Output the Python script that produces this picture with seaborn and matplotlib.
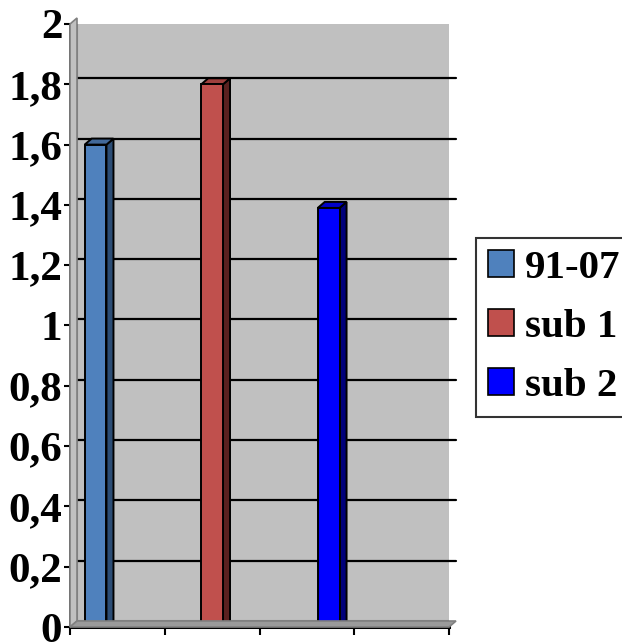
import matplotlib
matplotlib.use("Agg")
import matplotlib.pyplot as plt
import matplotlib.transforms as mtransforms
from matplotlib.patches import Rectangle, Polygon, Patch
import seaborn as sns
import pandas as pd
import numpy as np

# ---- data ----
categories = ["c1", "c2", "c3", "c4"]
series = ["91-07", "sub 1", "sub 2"]
series_category = ["c1", "c2", "c3"]
values = [1.6, 1.8, 1.39]
yticks = [0, 0.2, 0.4, 0.6, 0.8, 1.0, 1.2, 1.4, 1.6, 1.8, 2.0]
ytick_labels = ["0", "0,2", "0,4", "0,6", "0,8", "1", "1,2", "1,4", "1,6", "1,8", "2"]

front_colors = ["#4F81BD", "#C0504D", "#0000FF"]
top_colors = ["#42699A", "#9E403E", "#0000C8"]
side_colors = ["#2C4D75", "#5A2120", "#00007A"]

df = pd.DataFrame({"cat": series_category, "series": series, "value": values})

sns.set_theme(style="white")
plt.rcParams["font.family"] = ["Liberation Serif", "DejaVu Serif"]
plt.rcParams["font.weight"] = "bold"
plt.rcParams["text.color"] = "black"
plt.rcParams["ytick.color"] = "black"
plt.rcParams["xtick.color"] = "black"

W, H, DPI = 622, 643, 100
fig = plt.figure(figsize=(W / DPI, H / DPI), dpi=DPI)
fig.patch.set_facecolor("white")

left_px, right_px, top_px, bot_px = 70, 449, 24, 627
ax = fig.add_axes([left_px / W, (H - bot_px) / H, (right_px - left_px) / W, (bot_px - top_px) / H])
ax.set_facecolor("none")

DX, DY = 7, 6  # 3D depth offset in pixels
offset = mtransforms.ScaledTranslation(DX / DPI, DY / DPI, fig.dpi_scale_trans)

sns.barplot(data=df, x="cat", y="value", hue="series", order=categories,
            hue_order=series, palette=front_colors, dodge=True, width=0.69,
            gap=0, edgecolor="black", linewidth=1.4, saturation=1,
            legend=False, ax=ax, zorder=3)

ax.set_xlim(-0.5, 3.5)
ax.set_ylim(0, 2)

# back wall
wall = Rectangle((0, 0), 1, 1, transform=ax.transAxes + offset,
                 facecolor="#C0C0C0", edgecolor="#808080", linewidth=1.5, zorder=0)
ax.add_patch(wall)
# gridlines on the wall
for v in yticks[1:-1]:
    ax.plot([0, 1], [v, v], transform=ax.get_yaxis_transform() + offset,
            color="black", lw=1.6, zorder=0.5, clip_on=False)

# side wall and floor in display coords
p00 = ax.transAxes.transform((0, 0))
p01 = ax.transAxes.transform((0, 1))
p10 = ax.transAxes.transform((1, 0))
side = Polygon([p00, p01, p01 + [DX, DY], p00 + [DX, DY]], closed=True,
               transform=None, facecolor="#C0C0C0", edgecolor="#808080", lw=1.2, zorder=0.2)
fig.add_artist(side)
floor = Polygon([p00, p10, p10 + [DX, DY], p00 + [DX, DY]], closed=True,
                transform=None, facecolor="#9A9A9A", edgecolor="#808080", lw=1.2, zorder=0.2)
fig.add_artist(floor)

# 3D faces for bars
xr = ax.get_xlim(); yr = ax.get_ylim()
bb = ax.get_position()
dxd = DX / (bb.width * W) * (xr[1] - xr[0])
dyd = DY / (bb.height * H) * (yr[1] - yr[0])
for i, cont in enumerate(ax.containers):
    for rect in cont:
        h = rect.get_height()
        if not np.isfinite(h) or h == 0:
            continue
        x0 = rect.get_x(); w = rect.get_width()
        x1 = x0 + w
        sidep = Polygon([(x1, 0), (x1 + dxd, dyd), (x1 + dxd, h + dyd), (x1, h)], closed=True,
                        facecolor=side_colors[i], edgecolor="black", lw=1.4, zorder=2.9)
        topp = Polygon([(x0, h), (x0 + dxd, h + dyd), (x1 + dxd, h + dyd), (x1, h)], closed=True,
                       facecolor=top_colors[i], edgecolor="black", lw=1.4, zorder=2.9)
        ax.add_patch(sidep); ax.add_patch(topp)

# axes styling
for s in ["top", "right"]:
    ax.spines[s].set_visible(False)
ax.spines["left"].set_color("black"); ax.spines["left"].set_linewidth(1.8)
ax.spines["bottom"].set_color("black"); ax.spines["bottom"].set_linewidth(2.2)
ax.spines["left"].set_zorder(4); ax.spines["bottom"].set_zorder(4)

ax.set_yticks(yticks)
ax.set_yticklabels(ytick_labels, fontsize=31, fontweight="bold", color="black")
ax.set_xticks([-0.5, 0.5, 1.5, 2.5, 3.5])
ax.set_xticklabels([""] * 5)
ax.tick_params(axis="y", direction="out", length=4.5, width=1.5, color="black", pad=1, left=True)
ax.tick_params(axis="x", direction="out", length=6, width=1.5, color="black", bottom=True)
ax.set_xlabel(""); ax.set_ylabel("")
ax.grid(False)

handles = [Patch(facecolor=c, edgecolor="black", linewidth=1.2) for c in front_colors]
leg = fig.legend(handles, series, loc="upper left", bbox_to_anchor=(476 / W, 1 - 238 / H),
                 borderaxespad=0, frameon=True, fancybox=False, shadow=False,
                 prop={"family": "Liberation Serif", "weight": "bold", "size": 29.5},
                 handlelength=0.63, handleheight=0.63, handletextpad=0.27,
                 labelspacing=0.54, borderpad=0.29)
leg.get_frame().set_edgecolor("black")
leg.get_frame().set_linewidth(1.5)
for t in leg.get_texts():
    t.set_color("black")

fig.savefig("out.png", dpi=DPI)
